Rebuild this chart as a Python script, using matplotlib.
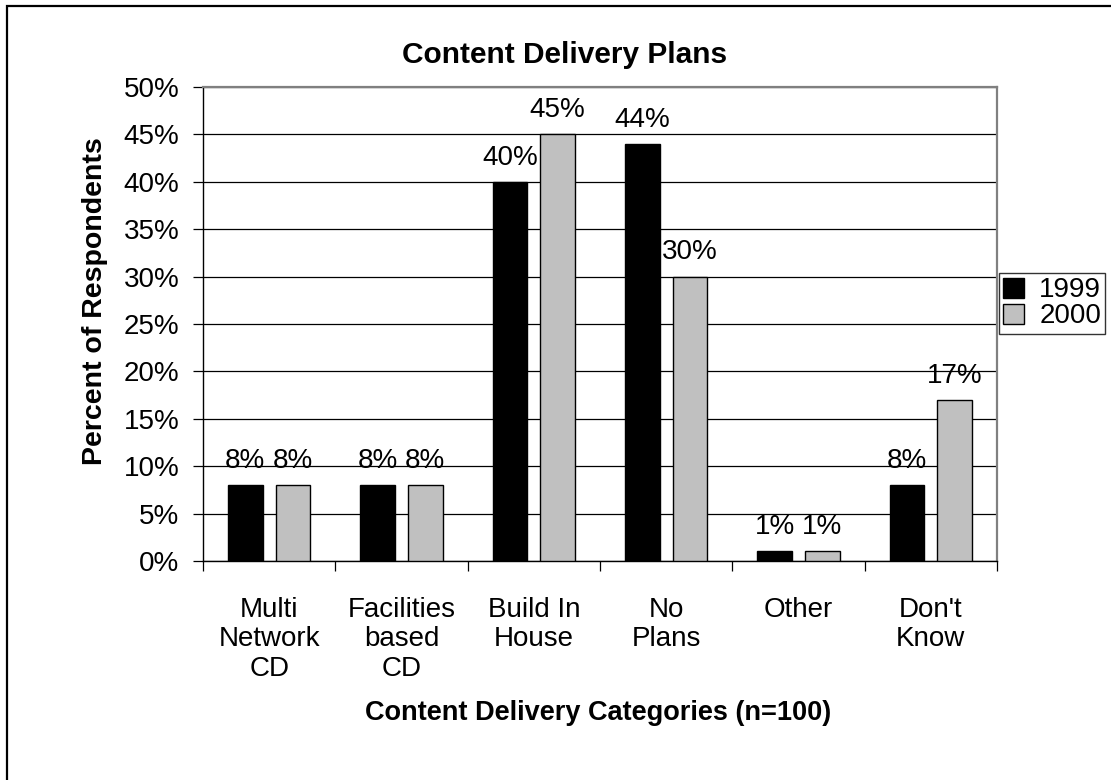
import matplotlib.pyplot as plt
import numpy as np
from matplotlib.patches import Rectangle

plt.rcParams['font.family'] = ['Liberation Sans', 'DejaVu Sans']

categories = ["Multi\nNetwork\nCD", "Facilities\nbased\nCD", "Build In\nHouse",
              "No\nPlans", "Other", "Don't\nKnow"]
years = ["1999", "2000"]
pct_1999 = [8, 8, 40, 44, 1, 8]
pct_2000 = [8, 8, 45, 30, 1, 17]
y_ticks = [0, 5, 10, 15, 20, 25, 30, 35, 40, 45, 50]

fig = plt.figure(figsize=(11.11, 7.8), dpi=100)
ax = fig.add_axes([0.1827, 0.2808, 0.7147, 0.6077])

x = np.arange(len(categories))
w = 0.26
b1 = ax.bar(x - 0.18, pct_1999, w, color="black", edgecolor="black",
            linewidth=1.0, label=years[0], zorder=3)
b2 = ax.bar(x + 0.18, pct_2000, w, color="#c0c0c0", edgecolor="black",
            linewidth=1.0, label=years[1], zorder=3)
ax.bar_label(b1, fmt="%d%%", padding=8, fontsize=20)
ax.bar_label(b2, fmt="%d%%", padding=8, fontsize=20)

ax.set_xlim(-0.5, len(categories) - 0.5)
ax.set_ylim(0, 50)
ax.set_yticks(y_ticks)
ax.set_yticklabels([f"{t}%" for t in y_ticks], fontsize=20)
ax.yaxis.grid(True, color="black", linewidth=0.9, zorder=0)
ax.set_axisbelow(True)
ax.tick_params(axis="y", direction="out", length=7, width=0.9, pad=10)

# boundary ticks between groups, labels sit on minor ticks at group centres
ax.set_xticks(np.arange(len(categories) + 1) - 0.5)
ax.set_xticklabels([])
ax.tick_params(axis="x", which="major", direction="out", length=7, width=0.9)
ax.set_xticks(x, minor=True)
ax.set_xticklabels(categories, minor=True, fontsize=20, linespacing=1.17)
ax.tick_params(axis="x", which="minor", length=0, pad=26)

for s in ["left", "bottom"]:
    ax.spines[s].set_color("black")
    ax.spines[s].set_linewidth(1.0)
for s in ["top", "right"]:
    ax.spines[s].set_color("#808080")
    ax.spines[s].set_linewidth(1.6)

fig.text(565 / 1111, 1 - 55 / 780, "Content Delivery Plans", fontsize=21.5,
         fontweight="bold", ha="center", va="center")
fig.text(95 / 1111, 1 - 301 / 780, "Percent of Respondents", fontsize=20.5,
         fontweight="bold", ha="center", va="center", rotation=90)
fig.text(598 / 1111, 1 - 713 / 780, "Content Delivery Categories (n=100)",
         fontsize=19.5, fontweight="bold", ha="center", va="center")

leg = fig.legend(handles=[b1, b2], loc="center left",
                 bbox_to_anchor=(999 / 1111, 1 - 303.5 / 780), fontsize=20,
                 frameon=True, fancybox=False, edgecolor="black",
                 handlelength=0.75, handleheight=0.75, handletextpad=0.55,
                 borderpad=0.15, labelspacing=0.0, borderaxespad=0)
leg.get_frame().set_linewidth(1.0)

# chart border
fig.patches.append(Rectangle((7 / 1111, -0.1), 1.2, 1.1 - 6 / 780,
                             transform=fig.transFigure, fill=False,
                             edgecolor="black", linewidth=1.6))

fig.savefig("out.png", dpi=100)
